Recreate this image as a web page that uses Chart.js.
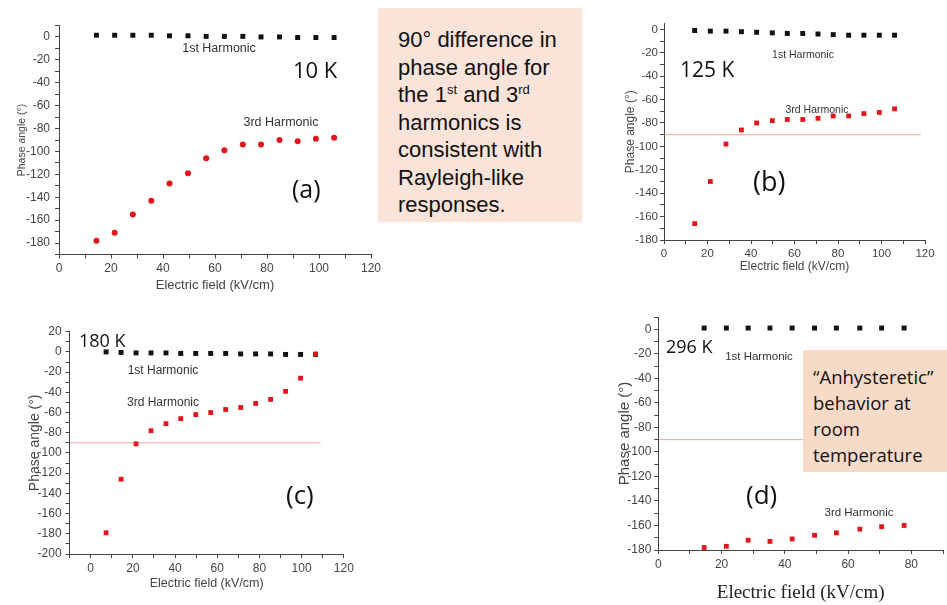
<!DOCTYPE html>
<html lang="en">
<head>
    <meta charset="UTF-8">
    <title>Phase angle vs electric field</title>
    <script src="https://cdn.jsdelivr.net/npm/chart.js"></script>
    <style>
        body {
            margin: 0;
            width: 947px;
            height: 605px;
            position: relative;
            overflow: hidden;
            background: #fff;
        }
        canvas {
            position: absolute;
        }
        .lab {
            position: absolute;
            white-space: nowrap;
            transform: translate(-50%, -50%);
            font-family: "Liberation Sans", Arial, sans-serif;
            color: #333;
            line-height: 1;
        }
        .big {
            position: absolute;
            white-space: nowrap;
            transform: translateY(-50%);
            font-family: "Open Sans", sans-serif;
            color: #111;
            line-height: 1;
        }
        .note {
            position: absolute;
            box-sizing: border-box;
            color: #111;
        }
        .note sup {
            font-size: 13px;
            line-height: 0;
            vertical-align: 8px;
        }
    </style>
</head>

<body>
    <canvas id="chartA" width="390" height="295" style="left:0;top:0"></canvas>
    <canvas id="chartB" width="337" height="290" style="left:610px;top:0"></canvas>
    <canvas id="chartC" width="380" height="300" style="left:0;top:300px"></canvas>
    <canvas id="chartD" width="347" height="305" style="left:600px;top:300px"></canvas>

    <!-- (a) labels -->
    <div class="lab" style="left:219px;top:48px;font-size:12.5px">1st Harmonic</div>
    <div class="big" style="left:293px;top:69px;font-size:22px">10 K</div>
    <div class="lab" style="left:281px;top:122px;font-size:12.5px">3rd Harmonic</div>
    <div class="big" style="left:292px;top:188px;font-size:25px">(a)</div>

    <!-- (b) labels -->
    <div class="big" style="left:680px;top:69px;font-size:21px">125 K</div>
    <div class="lab" style="left:803px;top:54px;font-size:10.5px">1st Harmonic</div>
    <div class="lab" style="left:817px;top:109px;font-size:10.5px">3rd Harmonic</div>
    <div class="big" style="left:753px;top:180px;font-size:27px">(b)</div>

    <!-- (c) labels -->
    <div class="big" style="left:79px;top:340px;font-size:18px">180 K</div>
    <div class="lab" style="left:163px;top:370px;font-size:12px">1st Harmonic</div>
    <div class="lab" style="left:163px;top:402px;font-size:12px">3rd Harmonic</div>
    <div class="big" style="left:286px;top:494px;font-size:26px">(c)</div>

    <!-- (d) labels -->
    <div class="big" style="left:666px;top:346px;font-size:18px">296 K</div>
    <div class="lab" style="left:759px;top:357px;font-size:11.5px">1st Harmonic</div>
    <div class="lab" style="left:859px;top:513px;font-size:11.5px">3rd Harmonic</div>
    <div class="big" style="left:746px;top:494px;font-size:26px">(d)</div>

    <!-- Text boxes -->
    <div class="note" style="left:378px;top:8px;width:204px;height:214px;background:#fae3d8;padding:18px 0 0 20px;font-family:'Liberation Sans',Arial,sans-serif;font-size:22px;line-height:27.5px">
        90° difference in<br>phase angle for<br>the 1<sup>st</sup> and 3<sup>rd</sup><br>harmonics is<br>consistent with<br>Rayleigh-like<br>responses.
    </div>
    <div class="note" style="left:803px;top:350px;width:144px;height:122px;background:#f7dac8;padding:14px 0 0 10px;font-family:'Open Sans',sans-serif;font-size:18.5px;line-height:26px">
        “Anhysteretic”<br>behavior at<br>room<br>temperature
    </div>

    <script>
        // Electric field (kV/cm) and phase angles (deg) for each temperature
        var fieldA = [14.4, 21.4, 28.4, 35.5, 42.5, 49.6, 56.6, 63.6, 70.7, 77.7, 84.8, 91.8, 98.8, 105.8];
        var firstA = [1.5, 1.5, 1.5, 1.5, 1, 1, 0.5, 0.5, 0.5, 0, 0, -0.5, -0.5, -0.5];
        var thirdA = [-178, -171, -155, -143, -128, -119, -106, -99, -94, -94, -90, -91, -89, -88];

        var fieldB = [14.1, 21.3, 28.5, 35.6, 42.6, 49.8, 56.7, 63.8, 70.8, 77.8, 84.9, 91.9, 99.0, 106.0];
        var firstB = [-1, -1.5, -1.5, -2, -2.5, -3, -3.5, -3.5, -4, -4.5, -5, -5, -5, -5];
        var thirdB = [-166, -130, -98, -86, -80, -78, -77, -77, -76, -74, -74, -72, -71, -68];

        var fieldC = [7.3, 14.4, 21.5, 28.6, 35.7, 42.7, 49.8, 56.9, 64.0, 71.1, 78.2, 85.3, 92.4, 99.5, 106.6];
        var firstC = [0, -0.5, -1, -1, -1, -1.5, -1.5, -1.5, -1.5, -2, -2, -2, -2.5, -2.5, -2.5];
        var thirdC = [-179, -126, -91, -78, -71, -66, -62, -60, -57, -55, -51, -47, -39, -26, -2];

        var fieldD = [14.5, 21.5, 28.4, 35.3, 42.3, 49.4, 56.3, 63.7, 70.6, 77.7];
        var firstD = [1, 1, 1, 1, 1, 1, 1, 1, 1, 1];
        var thirdD = [-178, -177, -172, -173, -171, -168, -166, -163, -161, -160];

        // -90 degree reference line and how far it runs in each panel
        var refAngle = -90;
        var refSpanB = [0, 118];
        var refSpanC = [-10, 109];
        var refSpanD = [0, 50];

        var RED = '#e3151b';
        var BLACK = '#111';

        function pts(xs, ys) {
            return xs.map(function (x, i) { return { x: x, y: ys[i] }; });
        }

        function harmonics(xs, first, third, redStyle) {
            return [
                // 3rd harmonic on top
                { label: '3rd Harmonic', data: pts(xs, third), backgroundColor: RED, borderWidth: 0,
                  pointStyle: redStyle, pointRadius: redStyle === 'circle' ? 3 : 3.4, clip: false },
                { label: '1st Harmonic', data: pts(xs, first), backgroundColor: BLACK, borderWidth: 0,
                  pointStyle: 'rect', pointRadius: 3.5, clip: false }
            ];
        }

        function refLine(span) {
            return { label: 'ref', data: pts(span, [refAngle, refAngle]), showLine: true, pointRadius: 0,
                     borderColor: 'rgba(225, 130, 130, 0.7)', borderWidth: 1 };
        }

        function buildChart(id, o) {
            return new Chart(document.getElementById(id), {
                type: 'scatter',
                data: { datasets: o.datasets },
                options: {
                    responsive: false,
                    animation: false,
                    layout: { padding: { left: 0, top: o.top, right: o.right, bottom: 0 } },
                    plugins: { legend: { display: false }, tooltip: { enabled: false } },
                    scales: {
                        x: {
                            type: 'linear', min: o.xMin, max: o.xMax,
                            afterFit: function (s) { s.height = o.xH; },
                            border: { color: '#444', width: 1 },
                            grid: { drawOnChartArea: false, tickLength: 4, color: '#444' },
                            ticks: {
                                stepSize: 10, maxTicksLimit: 100, autoSkip: false, maxRotation: 0,
                                includeBounds: false, padding: 3, color: '#444',
                                font: { family: 'Liberation Sans', size: o.tickSize },
                                callback: function (v) { return Math.round(v) % 20 === 0 ? String(v) : ''; }
                            },
                            title: {
                                display: true, text: 'Electric field (kV/cm)', color: o.xTitleColor || '#444',
                                font: { family: o.xTitleFamily || 'Liberation Sans', size: o.xTitleSize },
                                padding: { top: 0, bottom: o.xTitlePad }
                            }
                        },
                        y: {
                            type: 'linear', min: o.yMin, max: o.yMax,
                            afterFit: function (s) { s.width = o.yW; },
                            border: { color: '#444', width: 1 },
                            grid: { drawOnChartArea: false, tickLength: 4, color: '#444' },
                            ticks: {
                                stepSize: 10, maxTicksLimit: 100, autoSkip: false,
                                includeBounds: false, padding: o.yTickPad, color: '#444',
                                font: { family: 'Liberation Sans', size: o.tickSize },
                                callback: function (v) { return Math.round(v) % 20 === 0 ? String(v) : ''; }
                            },
                            title: {
                                display: true, text: 'Phase angle (°)', color: '#444',
                                font: { family: 'Liberation Sans', size: o.yTitleSize },
                                padding: { top: o.yTitlePad, bottom: 0 }
                            }
                        }
                    }
                }
            });
        }

        // (a) 10 K
        buildChart('chartA', {
            datasets: harmonics(fieldA, firstA, thirdA, 'circle'),
            xMin: 0, xMax: 120, yMin: -190, yMax: 10,
            top: 25.5, right: 19, xH: 40.5, yW: 59,
            tickSize: 12, yTickPad: 5,
            xTitleSize: 13, xTitlePad: 2.2,
            yTitleSize: 10.5, yTitlePad: 15.7
        });

        // (b) 125 K
        buildChart('chartB', {
            datasets: harmonics(fieldB, firstB, thirdB, 'rect').concat([refLine(refSpanB)]),
            xMin: 0, xMax: 120, yMin: -180, yMax: 5,
            top: 23.5, right: 22, xH: 50, yW: 54,
            tickSize: 11.5, yTickPad: 2,
            xTitleSize: 12, xTitlePad: 15.8,
            yTitleSize: 12, yTitlePad: 13.5
        });

        // (c) 180 K
        buildChart('chartC', {
            datasets: harmonics(fieldC, firstC, thirdC, 'rect').concat([refLine(refSpanC)]),
            xMin: -10, xMax: 120, yMin: -200, yMax: 20,
            top: 31.7, right: 36.2, xH: 46, yW: 69.6,
            tickSize: 12, yTickPad: 4,
            xTitleSize: 12.5, xTitlePad: 8.5,
            yTitleSize: 14, yTitlePad: 26.6
        });

        // (d) 296 K
        buildChart('chartD', {
            datasets: harmonics(fieldD, firstD, thirdD, 'rect').concat([refLine(refSpanD)]),
            xMin: 0, xMax: 90, yMin: -180, yMax: 10,
            top: 17, right: 0, xH: 55, yW: 58.3,
            tickSize: 12, yTickPad: 3,
            xTitleSize: 19, xTitlePad: 0.6, xTitleFamily: 'Liberation Serif', xTitleColor: '#222',
            yTitleSize: 15, yTitlePad: 16
        });
    </script>
</body>
</html>
